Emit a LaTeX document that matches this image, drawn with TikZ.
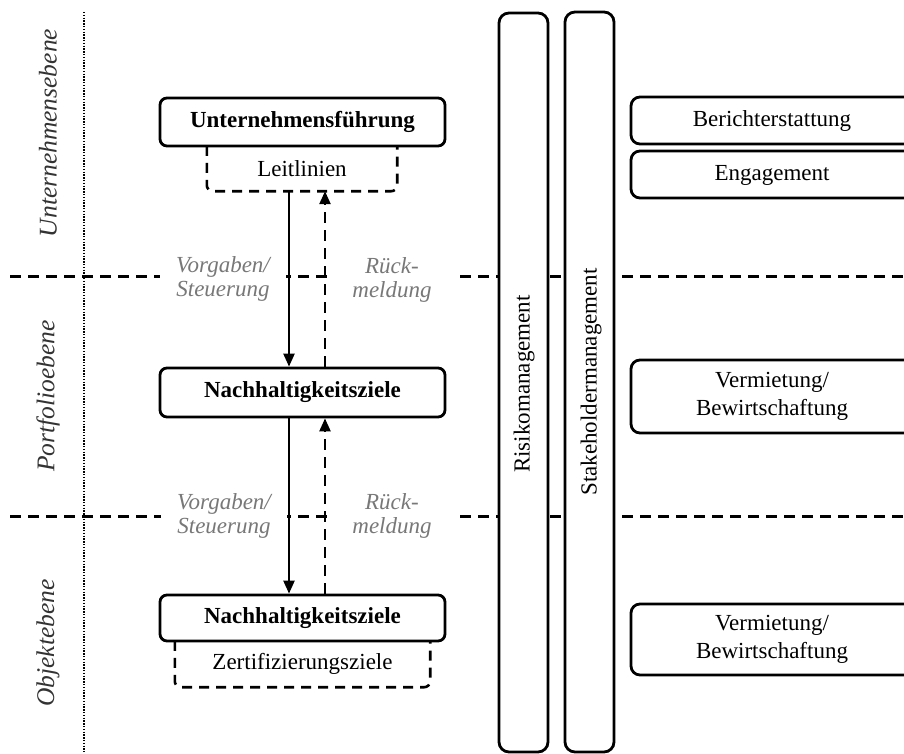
\documentclass[tikz,border=0pt]{standalone}
\usepackage{fontspec}
\setmainfont{Liberation Serif}
\usetikzlibrary{arrows.meta}
\definecolor{levelgray}{HTML}{333333}
\definecolor{flowgray}{HTML}{787878}
\tikzset{
  txt/.style={font=\fontsize{23}{25}\selectfont},
  mainbox/.style={draw, line width=2.8pt, rounded corners=7pt, fill=white, inner sep=0pt,
    font=\fontsize{23}{25}\selectfont\bfseries},
  sidebox/.style={draw, line width=2.8pt, rounded corners=9pt, fill=white, inner sep=0pt,
    align=center, font=\fontsize{23}{28}\selectfont},
  bar/.style={draw, line width=2.8pt, rounded corners=10pt, fill=white, inner sep=0pt},
  subbox/.style={inner sep=0pt, txt},
  subline/.style={line width=2.6pt, dash pattern=on 10pt off 7pt, rounded corners=6pt},
  levellabel/.style={rotate=90, text=levelgray, font=\fontsize{25.5}{28}\selectfont\itshape},
  flowlabel/.style={fill=white, text=flowgray, align=center, inner sep=0pt,
    minimum width=126pt, minimum height=46pt, font=\fontsize{23}{24.5}\selectfont\itshape},
  separator/.style={line width=2.6pt, dash pattern=on 11pt off 7pt},
  down/.style={line width=2.4pt, -{Triangle[width=11pt,length=13pt]}},
  up/.style={line width=2.4pt, dash pattern=on 11pt off 7pt, -{Triangle[width=11pt,length=13pt]}},
}
\begin{document}
\begin{tikzpicture}[x=1pt,y=-1pt]
\useasboundingbox (0,0) rectangle (904,754);
\clip (0,0) rectangle (904,754);
\fill[white] (0,0) rectangle (904,754);

% level separators and axis
\coordinate (sepA) at (10,276.5);
\coordinate (sepB) at (10,516.5);
\coordinate (sepAend) at (904,276.5);
\coordinate (sepBend) at (904,516.5);
\draw[separator] (sepA) -- (sepAend);
\draw[separator] (sepB) -- (sepBend);
\coordinate (axtop) at (84,12);
\coordinate (axbot) at (84,752);
\draw[line width=1.4pt, dash pattern=on 1.4pt off 1.4pt] (axtop) -- (axbot);

% level labels
\node[levellabel] (lvlU) at (48,133) {Unternehmensebene};
\node[levellabel] (lvlP) at (48,396) {Portfolioebene};
\node[levellabel] (lvlO) at (48,643) {Objektebene};

% cross-cutting bars
\node[bar, minimum width=49pt, minimum height=739pt] (risk) at (523.5,382.5) {};
\node[rotate=90, txt] (risktxt) at (524,384) {Risikomanagement};
\node[bar, minimum width=49pt, minimum height=740pt] (stake) at (589.5,382) {};
\node[rotate=90, txt] (staketxt) at (591,382) {Stakeholdermanagement};

% sub boxes (dashed, behind the main boxes)
\node[subbox, minimum width=190pt, minimum height=45pt] (leit) at (302,168.5) {Leitlinien};
\draw[subline] (leit.north west) -- (leit.south west) -- (leit.south east) -- (leit.north east);
\node[subbox, minimum width=255pt, minimum height=46pt] (zert) at (302.5,664) {Zertifizierungsziele};
\draw[subline] (zert.north west) -- (zert.south west) -- (zert.south east) -- (zert.north east);

% main boxes
\node[mainbox, minimum width=285pt, minimum height=48pt] (fuehr) at (302.5,122) {Unternehmensführung};
\node[mainbox, minimum width=285pt, minimum height=49pt] (zielP) at (302.5,392.5) {Nachhaltigkeitsziele};
\node[mainbox, minimum width=285pt, minimum height=46pt] (zielO) at (302.5,618) {Nachhaltigkeitsziele};

% flow labels
\node[flowlabel] (vsA) at (223,279) {Vorgaben/\\Steuerung};
\node[flowlabel] (rmA) at (392,280) {Rück-\\meldung};
\node[flowlabel] (vsB) at (224,516) {Vorgaben/\\Steuerung};
\node[flowlabel] (rmB) at (392,516) {Rück-\\meldung};

% flows
\coordinate (downx) at (289,0);
\coordinate (upx) at (325,0);
\draw[down] (downx |- leit.south) -- (downx |- zielP.north);
\draw[up] (upx |- zielP.north) -- (upx |- leit.south);
\draw[down] (downx |- zielP.south) -- (downx |- zielO.north);
\draw[up] (upx |- zielO.north) -- (upx |- zielP.south);

% right-hand boxes
\node[sidebox, minimum width=282pt, minimum height=47pt] (bericht) at (772,120.5) {};
\node[txt] (berichttxt) at (772,121) {Berichterstattung};
\node[sidebox, minimum width=282pt, minimum height=47pt] (engage) at (772,174.5) {};
\node[txt] (engagetxt) at (772,175) {Engagement};
\node[sidebox, minimum width=282pt, minimum height=73pt] (vermP) at (772,396.5) {Vermietung/\\Bewirtschaftung};
\node[sidebox, minimum width=282pt, minimum height=71pt] (vermO) at (772,639.5) {Vermietung/\\Bewirtschaftung};
\end{tikzpicture}
\end{document}
